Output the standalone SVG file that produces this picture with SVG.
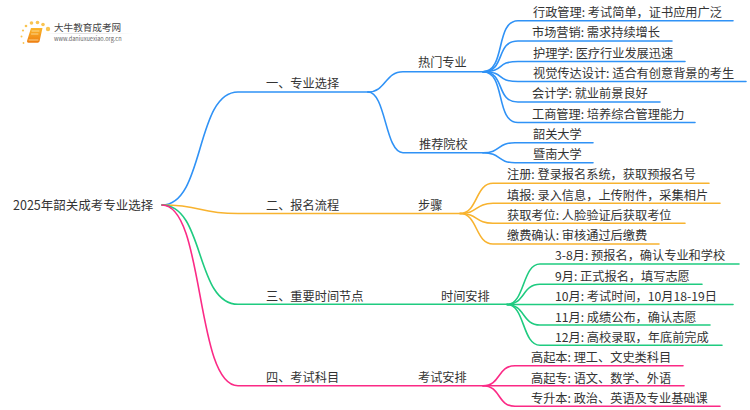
<svg xmlns="http://www.w3.org/2000/svg" width="750" height="410" viewBox="0 0 750 410">
<defs>
<linearGradient id="bk" x1="0" y1="0" x2="0" y2="1"><stop offset="0" stop-color="#fbb62a"/><stop offset="1" stop-color="#ee7d10"/></linearGradient>
<linearGradient id="ln" x1="0" y1="0" x2="1" y2="0"><stop offset="0" stop-color="#ddd" stop-opacity="0"/><stop offset=".4" stop-color="#ddd"/><stop offset="1" stop-color="#ddd" stop-opacity="0"/></linearGradient>
</defs>
<style>
text{font-family:"Noto Sans CJK SC","Liberation Sans",sans-serif;font-size:12.2px;fill:#333}
path{fill:none;stroke-width:1.6;stroke-linecap:round}
.b path{stroke:#2f92f6}.o path{stroke:#f8b32f}.g path{stroke:#1fcb80}.p path{stroke:#fb2a86}
</style>
<rect width="750" height="410" fill="#fff"/>
<g id="connectors">
<g class="b">
<path d="M162 205C205 205 195 92 238 92H368"/>
<path d="M368 92C386 92 385 71.7 403 71.7H483"/>
<path d="M368 92C386 92 385 152.7 403 152.7H483"/>
<path d="M483 71.7C506 71.7 495 20.7 518 20.7H733"/>
<path d="M483 71.7C506 71.7 495 41 518 41H672"/>
<path d="M483 71.7C506 71.7 495 61.5 518 61.5H685"/>
<path d="M483 71.7C506 71.7 495 81.5 518 81.5H746"/>
<path d="M483 71.7C506 71.7 495 102 518 102H660"/>
<path d="M483 71.7C506 71.7 495 122.5 518 122.5H695"/>
<path d="M483 152.7C501 152.7 497 142.7 515 142.7H593"/>
<path d="M483 152.7C501 152.7 497 162.7 515 162.7H593"/>
</g>
<g class="o">
<path d="M162 205C205 205 195 213.5 238 213.5H460"/>
<path d="M460 213.5C478 213.5 475 183.3 493 183.3H709"/>
<path d="M460 213.5C478 213.5 475 203.3 493 203.3H720"/>
<path d="M460 213.5C478 213.5 475 223.3 493 223.3H685"/>
<path d="M460 213.5C478 213.5 475 244 493 244H659"/>
</g>
<g class="g">
<path d="M162 205C205 205 195 304.3 238 304.3H507"/>
<path d="M507 304.5C525 304.5 522 264 540 264H739"/>
<path d="M507 304.5C525 304.5 522 284.3 540 284.3H702"/>
<path d="M507 304.5H733"/>
<path d="M507 304.5C525 304.5 522 325 540 325H710"/>
<path d="M507 304.5C525 304.5 522 345.3 540 345.3H722"/>
</g>
<g class="p">
<path d="M162 205C205 205 195 385.7 238 385.7H483"/>
<path d="M483 385.7C501 385.7 497 365.7 515 365.7H683"/>
<path d="M483 385.7H684"/>
<path d="M483 385.7C501 385.7 497 406.3 515 406.3H720"/>
</g>
</g>
<g id="logo">
<g fill="#f9c451"><circle cx="48" cy="29" r="2.2"/><circle cx="43" cy="24.500" r="1.8"/><circle cx="37.500" cy="22.500" r="1.8"/><circle cx="31.500" cy="23" r="1.8"/><circle cx="26" cy="26" r="1.3"/><circle cx="23" cy="30.500" r="1.1"/><circle cx="21.500" cy="36.500" r="1"/><circle cx="23.500" cy="43" r=".9"/></g>
<rect x="45" y="33" width="88" height="1" fill="url(#ln)"/>
<path d="M31 28H42.500L39.500 41.500C39 42.500 38 42.800 37 42.800H28.500C27 42.800 26.800 41.500 27.300 40Z" style="fill:url(#bk);stroke:none"/>
<path d="M32 31H39M31.500 34H38M29 40H38" style="stroke:#fde3a8;stroke-width:.8"/>
<text x="54" y="31" style="font-size:9.6px;fill:#444">大牛教育成考网</text>
<text x="54" y="40.500" style="font-size:5.600px;fill:#666">www.daniuxuexiao.org.cn</text>
</g>
<g id="root"><text x="13" y="209.500" style="font-size:12.5px">2025年韶关成考专业选择</text></g>
<g id="n1"><text x="266" y="88">一、专业选择</text></g>
<g id="n1a"><text x="418" y="67">热门专业</text></g>
<g id="n1a1"><text x="533" y="16.500">行政管理: 考试简单，证书应用广泛</text></g>
<g id="n1a2"><text x="532" y="37">市场营销: 需求持续增长</text></g>
<g id="n1a3"><text x="533" y="57.500">护理学: 医疗行业发展迅速</text></g>
<g id="n1a4"><text x="533" y="77.500">视觉传达设计: 适合有创意背景的考生</text></g>
<g id="n1a5"><text x="532" y="98">会计学: 就业前景良好</text></g>
<g id="n1a6"><text x="532" y="118.500">工商管理: 培养综合管理能力</text></g>
<g id="n1b"><text x="419" y="149">推荐院校</text></g>
<g id="n1b1"><text x="533" y="139">韶关大学</text></g>
<g id="n1b2"><text x="533" y="159">暨南大学</text></g>
<g id="n2"><text x="266" y="210">二、报名流程</text></g>
<g id="n2a"><text x="418" y="210">步骤</text></g>
<g id="n2a1"><text x="507" y="179">注册: 登录报名系统，获取预报名号</text></g>
<g id="n2a2"><text x="507" y="199.500">填报: 录入信息，上传附件，采集相片</text></g>
<g id="n2a3"><text x="507" y="220">获取考位: 人脸验证后获取考位</text></g>
<g id="n2a4"><text x="507" y="240">缴费确认: 审核通过后缴费</text></g>
<g id="n3"><text x="266" y="301">三、重要时间节点</text></g>
<g id="n3a"><text x="441" y="301">时间安排</text></g>
<g id="n3a1"><text x="555" y="260">3-8月: 预报名，确认专业和学校</text></g>
<g id="n3a2"><text x="555" y="280.500">9月: 正式报名，填写志愿</text></g>
<g id="n3a3"><text x="555" y="301">10月: 考试时间，10月18-19日</text></g>
<g id="n3a4"><text x="555" y="321.500">11月: 成绩公布，确认志愿</text></g>
<g id="n3a5"><text x="555" y="342">12月: 高校录取，年底前完成</text></g>
<g id="n4"><text x="266" y="382">四、考试科目</text></g>
<g id="n4a"><text x="418" y="382">考试安排</text></g>
<g id="n4a1"><text x="531" y="362">高起本: 理工、文史类科目</text></g>
<g id="n4a2"><text x="531" y="382.500">高起专: 语文、数学、外语</text></g>
<g id="n4a3"><text x="531" y="402.500">专升本: 政治、英语及专业基础课</text></g>
</svg>
